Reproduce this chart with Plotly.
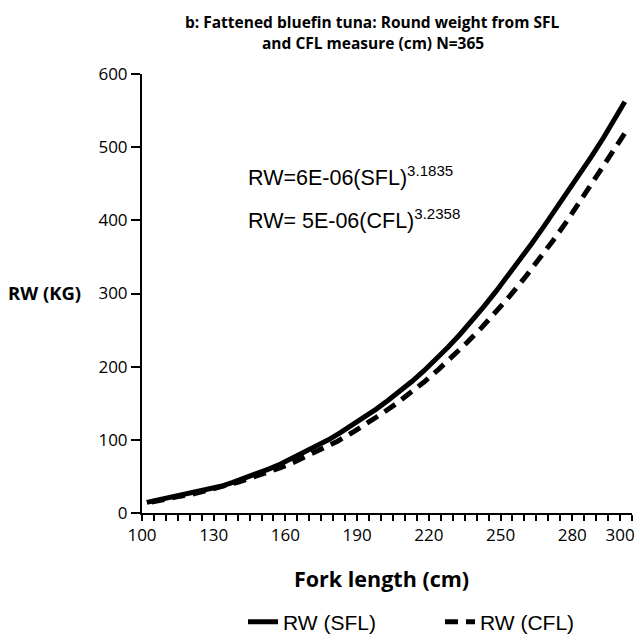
import plotly.graph_objects as go

# Data
sfl_x = [102, 108, 113, 118, 123, 128, 133, 138, 143, 148, 153, 158, 163, 168, 173,
         178, 183, 188, 193, 198, 203, 208, 213, 218, 223, 228, 233, 238, 243, 248,
         253, 258, 263, 268, 273, 278, 283, 288, 293, 298, 302]
sfl_y = [14.5, 19, 22.5, 25.5, 28.5, 33, 36.5, 42, 47.5, 53, 60, 67, 75, 83, 92,
         100, 110, 120, 131, 142, 154, 166.5, 180, 194.5, 210, 226.5, 244, 262.5, 282, 302.5,
         323.5, 345.5, 368, 391, 414.5, 438, 462, 487, 512.5, 539, 562]

cfl_x = [104, 110, 116, 122, 128, 134, 140, 146, 152, 158, 164, 170, 176, 182, 188,
         194, 200, 206, 212, 218, 224, 230, 236, 242, 248, 254, 260, 266, 272, 278,
         284, 290, 296, 302]
cfl_y = [15, 19.5, 23, 26.5, 31.5, 36, 42, 48.5, 55, 62, 70, 79, 88, 98.5, 110,
         122, 135, 148.5, 163, 179, 196, 214, 233, 253, 274.5, 297, 321, 346, 372.5, 400,
         429, 459, 489, 519]

x_tick_vals = [100, 130, 160, 190, 220, 250, 280, 300]
y_tick_vals = [0, 100, 200, 300, 400, 500, 600]

title_lines = ["b: Fattened bluefin tuna: Round weight from SFL",
               "and CFL measure (cm) N=365"]
eq_sfl = "RW=6E-06(SFL)<sup>3.1835</sup>"
eq_cfl = "RW= 5E-06(CFL)<sup>3.2358</sup>"

W, H = 640, 643
L, R, T, B = 142, 8, 74, 130
pw, ph = W - L - R, H - T - B

def px(x):
    return (x - L) / pw

def py(y):
    return (H - B - y) / ph

fig = go.Figure()
fig.add_trace(go.Scatter(x=sfl_x, y=sfl_y, mode="lines", name="RW (SFL)",
                         line=dict(color="black", width=5)))
fig.add_trace(go.Scatter(x=cfl_x, y=cfl_y, mode="lines", name="RW (CFL)",
                         line=dict(color="black", width=5, dash="13px,8px")))

tick_font = dict(family="Open Sans", size=17, color="black")
fig.update_layout(
    width=W, height=H,
    margin=dict(l=L, r=R, t=T, b=B, pad=0, autoexpand=False),
    paper_bgcolor="white", plot_bgcolor="white",
    showlegend=True,
    legend=dict(orientation="h", xref="container", yref="container",
                x=440 / W, xanchor="center", y=(H - 622) / H, yanchor="middle",
                font=dict(family="Liberation Sans", size=21, color="black"),
                bgcolor="rgba(0,0,0,0)", entrywidth=152, entrywidthmode="pixels",
                tracegroupgap=0),
    xaxis=dict(range=[100, 305], tickvals=x_tick_vals, ticktext=[str(v) for v in x_tick_vals],
               showgrid=False, zeroline=False, showline=True, linecolor="black", linewidth=2,
               ticks="outside", ticklen=6, tickwidth=2, tickcolor="black", tickfont=tick_font,
               automargin=False,
               minor=dict(tick0=100, dtick=5, ticks="outside", ticklen=6, tickwidth=2,
                          tickcolor="black", showgrid=False)),
    yaxis=dict(range=[0, 600], tickvals=y_tick_vals, showgrid=False, zeroline=False,
               showline=True, linecolor="black", linewidth=2, automargin=False,
               ticks="outside", ticklen=9, tickwidth=2, tickcolor="black", tickfont=tick_font),
)

title_font = dict(family="Open Sans", size=15.5, color="black")
fig.add_annotation(text="<b>" + title_lines[0] + "</b>", x=px(372), y=py(22), xref="paper", yref="paper",
                   showarrow=False, xanchor="center", yanchor="middle", font=title_font)
fig.add_annotation(text="<b>" + title_lines[1] + "</b>", x=px(373), y=py(43), xref="paper", yref="paper",
                   showarrow=False, xanchor="center", yanchor="middle", font=title_font)
fig.add_annotation(text="<b>RW (KG)</b>", x=px(44), y=py(292), xref="paper", yref="paper",
                   showarrow=False, xanchor="center", yanchor="middle",
                   font=dict(family="Open Sans", size=18.5, color="black"))
fig.add_annotation(text="<b>Fork length (cm)</b>", x=px(381), y=py(578), xref="paper", yref="paper",
                   showarrow=False, xanchor="center", yanchor="middle",
                   font=dict(family="Open Sans", size=21.5, color="black"))
eq_font = dict(family="Liberation Sans", size=21.5, color="black")
fig.add_annotation(text=eq_sfl, x=px(246), y=py(176), xref="paper", yref="paper",
                   showarrow=False, xanchor="left", yanchor="middle", font=eq_font)
fig.add_annotation(text=eq_cfl, x=px(246), y=py(219), xref="paper", yref="paper",
                   showarrow=False, xanchor="left", yanchor="middle", font=eq_font)

fig.write_html("out.html")
